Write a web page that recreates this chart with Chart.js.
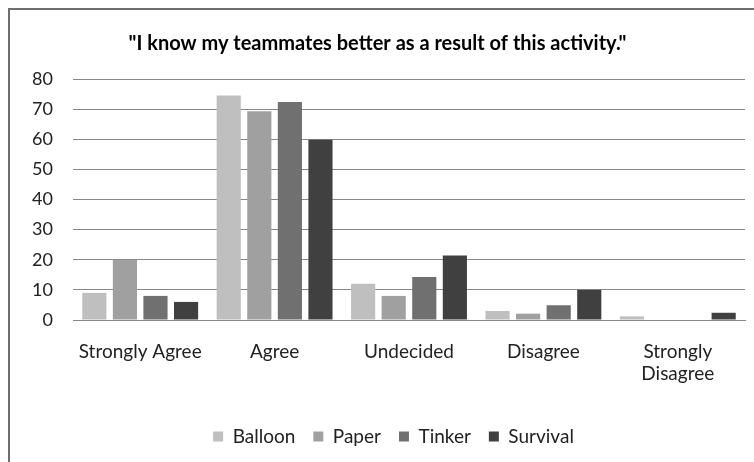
<!DOCTYPE html>
<html>
<head>
<meta charset="utf-8">
<script src="https://cdn.jsdelivr.net/npm/chart.js@4"></script>
<style>
  body { margin: 0; background: #fff; }
  #frame {
    position: absolute; left: 8px; top: 8px;
    width: 760px; height: 470px;
    border-left: 2px solid #6e6e6e; border-top: 2px solid #6e6e6e;
    box-sizing: border-box;
  }
  #wrap { position: absolute; left: 10px; top: 10px; width: 744px; height: 452px; }
</style>
</head>
<body>
<div id="frame"></div>
<div id="wrap"><canvas id="chart"></canvas></div>
<script>
const categories = ['Strongly Agree', 'Agree', 'Undecided', 'Disagree', ['Strongly', 'Disagree']];
const balloon  = [9, 74.5, 12, 3, 1.2];
const paper    = [20, 69.3, 8, 2.1, 0];
const tinker   = [8, 72.4, 14.3, 4.9, 0];
const survival = [6, 59.8, 21.4, 10, 2.4];
const yTicks = [0, 10, 20, 30, 40, 50, 60, 70, 80];

const font = 'Lato, "Open Sans", sans-serif';

// the legend sits a bit right of centre in the original
const shiftLegend = {
    id: 'shiftLegend',
    afterLayout(chart) {
        chart.legend.left += 16;
        chart.legend.right += 16;
    }
};

new Chart(document.getElementById('chart'), {
    type: 'bar',
    data: {
        labels: categories,
        datasets: [
            { label: 'Balloon',  data: balloon,  backgroundColor: '#bfbfbf' },
            { label: 'Paper',    data: paper,    backgroundColor: '#a0a0a0' },
            { label: 'Tinker',   data: tinker,   backgroundColor: '#707070' },
            { label: 'Survival', data: survival, backgroundColor: '#404040' }
        ]
    },
    plugins: [shiftLegend],
    options: {
        responsive: true,
        maintainAspectRatio: false,
        animation: false,
        datasets: { bar: { categoryPercentage: 0.91, barPercentage: 0.79 } },
        layout: { padding: { left: 0, right: 9, top: 9, bottom: 6 } },
        plugins: {
            title: {
                display: true,
                text: '"I know my teammates better as a result of this activity."',
                color: '#000',
                font: { family: font, size: 20, weight: 'bold' },
                padding: { top: 13, bottom: 23 }
            },
            legend: {
                position: 'bottom',
                labels: {
                    color: '#222',
                    font: { family: font, size: 19 },
                    boxWidth: 10, boxHeight: 10,
                    padding: 18
                }
            },
            tooltip: { enabled: false }
        },
        scales: {
            x: {
                afterFit: axis => { axis.height = 89; },
                grid: { display: false, drawTicks: false },
                border: { color: '#888', width: 1 },
                ticks: { color: '#222', font: { family: font, size: 19 }, padding: 20, maxRotation: 0 }
            },
            y: {
                min: 0, max: 80,
                afterBuildTicks: axis => { axis.ticks = yTicks.map(v => ({ value: v })); },
                afterFit: axis => { axis.width = 63; },
                grid: { color: '#888', drawTicks: false },
                border: { display: false },
                ticks: { color: '#222', font: { family: font, size: 18 }, padding: 20 }
            }
        }
    }
});
</script>
</body>
</html>
